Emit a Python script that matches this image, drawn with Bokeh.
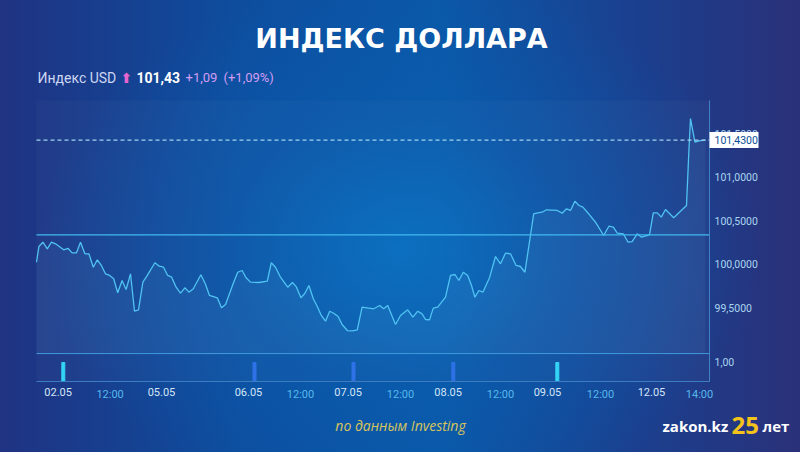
from bokeh.plotting import figure
from bokeh.models import (Range1d, LinearAxis, FixedTicker, CustomJSTickFormatter, Label,
                          BoxAnnotation)
from bokeh.embed import file_html
from bokeh.resources import INLINE

# ---- data ----
# time position (session index units) and price
t = [0, 0.6, 1.6, 2.7, 3.7, 4.75, 6.8, 7.9, 8.9, 10.0, 11.0, 12.1, 13.1, 14.2, 15.2, 16.2,
     17.25, 18.3, 19.3, 20.3, 21.4, 22.4, 23.5, 24.5, 25.5, 26.6, 27.7, 29.6, 30.7, 31.75,
     32.8, 33.8, 34.9, 36.0, 37.1, 38.1, 39.2, 41.1, 42.2, 43.25, 45.2, 46.25, 47.25, 49.3,
     50.3, 51.4, 52.4, 53.5, 55.6, 57.7, 58.7, 59.75, 61.0, 62.8, 64.0, 65.0, 66.1, 67.1,
     68.1, 69.2, 70.2, 71.2, 72.25, 73.3, 74.3, 75.4, 76.4, 77.7, 79.0, 80.2, 81.4, 84.3,
     85.8, 86.8, 87.8, 89.75, 91.0, 92.8, 94.1, 95.3, 96.4, 97.25, 98.25, 99.2, 100.3,
     102.25, 103.5, 104.6, 105.6, 106.7, 107.8, 108.75, 109.6, 110.6, 111.6, 113.3, 114.75,
     116.0, 117.25, 118.5, 119.9, 121.0, 122.1, 124.3, 125.3, 126.4, 127.5, 130.2, 131.4,
     132.5, 133.5, 134.6, 135.6, 136.6, 137.7, 139.75, 141.8, 143.1, 144.2, 145.2, 146.7,
     147.9, 148.9, 150.2, 151.25, 153.25, 154.2, 155.2, 156.2, 157.25, 159.3, 162.5, 163.1,
     163.5, 164.6, 166.0, 167.25]
price = [100.026, 100.207, 100.256, 100.180, 100.256, 100.238, 100.169, 100.184, 100.134,
         100.134, 100.256, 100.123, 100.123, 99.969, 100.054, 99.989, 99.893, 99.874, 99.836,
         99.675, 99.816, 99.713, 99.893, 99.463, 99.479, 99.797, 99.874, 100.020, 99.980,
         99.969, 99.874, 99.854, 99.739, 99.670, 99.732, 99.682, 99.721, 99.882, 99.778,
         99.644, 99.617, 99.502, 99.540, 99.797, 99.911, 99.931, 99.847, 99.797, 99.793,
         99.808, 100.020, 99.969, 99.854, 99.739, 99.793, 99.739, 99.617, 99.670, 99.759,
         99.606, 99.517, 99.414, 99.348, 99.463, 99.440, 99.402, 99.310, 99.241, 99.236,
         99.249, 99.509, 99.491, 99.529, 99.491, 99.529, 99.310, 99.414, 99.479, 99.394,
         99.463, 99.433, 99.368, 99.364, 99.498, 99.509, 99.624, 99.874, 99.885, 99.816,
         99.911, 99.874, 99.759, 99.624, 99.701, 99.682, 99.854, 100.092, 100.008, 100.130,
         100.123, 99.989, 99.977, 99.911, 100.583, 100.594, 100.601, 100.629, 100.621,
         100.590, 100.640, 100.621, 100.728, 100.678, 100.659, 100.601, 100.486, 100.333,
         100.440, 100.429, 100.360, 100.353, 100.256, 100.264, 100.353, 100.314, 100.341,
         100.594, 100.594, 100.544, 100.632, 100.537, 100.678, 101.310, 101.678, 101.406,
         101.425, 101.430]

last_price = 101.43
prev_close = 100.34

date_ticks = [5.4, 31.25, 53.0, 77.9, 102.9, 127.75, 153.75]
date_labels = ["02.05", "05.05", "06.05", "07.05", "08.05", "09.05", "12.05"]
hour_ticks = [18.4, 66.0, 91.0, 116.0, 141.0, 165.75]
hour_labels = ["12:00", "12:00", "12:00", "12:00", "12:00", "14:00"]
price_ticks = [99.5, 100.0, 100.5, 101.0, 101.5]

vol_t = [6.7, 54.5, 79.25, 104.2, 130.2]
vol_vals = [1.0, 1.0, 1.0, 1.0, 1.0]
vol_colors = ["#2fd3f5", "#2a6ee6", "#2a6ee6", "#2a6ee6", "#2fd3f5"]
vol_tick = 1.0

# ---- layout of the whole card (frame covers the full canvas) ----
W, H = 800, 452
XR = (-9.0, 191.0)              # full-canvas x range (session units)
YR = (97.839, 103.0345)         # full-canvas price range
VR = (-3.737, 20.053)           # full-canvas volume range
CX = (0.0, 168.25)              # chart area x extent
CY = (98.655, 101.885)          # chart area price extent
TAG_W, TAG_H = 12.25, 0.092     # price tag box size (x units, half-height in price units)

p = figure(width=W, height=H, output_backend="svg", toolbar_location=None,
           x_range=Range1d(*XR), y_range=Range1d(*YR),
           x_axis_location=None, y_axis_location=None, min_border=0)
p.extra_y_ranges = {"vol": Range1d(*VR)}
p.grid.visible = False
p.outline_line_color = None
p.border_fill_alpha = 0
p.background_fill_alpha = 0
p.styles = {"background": "radial-gradient(ellipse 45% 60% at 50% 55%, rgba(6,112,195,0.85) 0%, rgba(8,95,178,0.45) 50%, rgba(8,80,160,0) 100%), "
                          "linear-gradient(90deg, #1f3382 0%, #0e4d9e 30%, #0b58a8 55%, #1b3f8e 80%, #2a3179 100%)"}

# chart area panel
p.add_layout(BoxAnnotation(left=CX[0], right=CX[1], bottom=CY[0], top=CY[1],
                           fill_color="#ffffff", fill_alpha=0.025, line_color=None))

# separator between price area and volume strip (price units)
sep_price = YR[0] + (1.47 - VR[0]) / (VR[1] - VR[0]) * (YR[1] - YR[0])

p.varea(x=t, y1=sep_price, y2=price, fill_color="#7cc8f5", fill_alpha=0.07)
p.line(t, price, line_color="#4cc2f2", line_width=1.3)
p.vbar(x=vol_t, top=vol_vals, bottom=0, width=0.75, color=vol_colors, y_range_name="vol")

p.segment(x0=[CX[0]], x1=[CX[1]], y0=[prev_close], y1=[prev_close], line_color="#3db8f0", line_width=1.2)
p.segment(x0=[CX[0]], x1=[CX[1]], y0=[last_price], y1=[last_price], line_color="#9fd3f0",
          line_width=1.3, line_dash="4 3")
p.segment(x0=[CX[0]], x1=[CX[1]], y0=[sep_price], y1=[sep_price], line_color="#3b98dc", line_width=1)

# x axes (dates, hours) fixed at the bottom of the chart area
def style_x(ax, color):
    ax.major_label_text_color = color
    ax.major_label_text_font = "Roboto"
    ax.major_label_text_font_size = "11px"
    ax.major_label_standoff = 6
    ax.major_tick_out = 0
    ax.major_tick_in = 0
    ax.major_tick_line_color = None
    ax.minor_tick_line_color = None

xa = LinearAxis(ticker=FixedTicker(ticks=date_ticks), fixed_location=CY[0], bounds=CX)
xa.major_label_overrides = {k: v for k, v in zip(date_ticks, date_labels)}
style_x(xa, "#d3e6f8")
xa.axis_line_color = "#3a7cc2"
p.add_layout(xa, "below")

xb = LinearAxis(ticker=FixedTicker(ticks=hour_ticks), fixed_location=CY[0], bounds=CX)
xb.major_label_overrides = {k: v for k, v in zip(hour_ticks, hour_labels)}
style_x(xb, "#56b9ec")
xb.axis_line_color = None
p.add_layout(xb, "below")

# right axis fixed at the right edge of the chart area
vol_tick_price = YR[0] + (vol_tick - VR[0]) / (VR[1] - VR[0]) * (YR[1] - YR[0])
ya = LinearAxis(ticker=FixedTicker(ticks=[vol_tick_price] + price_ticks), fixed_location=CX[1],
                bounds=CY)
ya.formatter = CustomJSTickFormatter(code="return tick.toFixed(4).replace('.', ',');")
ya.major_label_overrides = {vol_tick_price: "1,00"}
ya.major_label_text_color = "#a9d5f0"
ya.major_label_text_font = "Roboto"
ya.major_label_text_font_size = "10.5px"
ya.major_label_standoff = 5
ya.major_tick_out = 0
ya.major_tick_in = 0
ya.axis_line_color = "#3d80c4"
ya.major_tick_line_color = None
ya.minor_tick_line_color = None
p.add_layout(ya, "right")

# price tag
p.add_layout(BoxAnnotation(left=CX[1], right=CX[1] + TAG_W, bottom=last_price - TAG_H,
                           top=last_price + TAG_H, fill_color="#ffffff", fill_alpha=1.0,
                           line_color=None))
p.add_layout(Label(x=CX[1], y=last_price, text="101,4300", text_align="left", text_baseline="middle",
                   text_color="#0c4e95", text_font="Roboto", text_font_size="10.5px", x_offset=5))

def lab(sx, sy, text, **kw):
    p.add_layout(Label(x=sx, y=sy, x_units="screen", y_units="screen", text=text, **kw))

lab(401, 414, "ИНДЕКС ДОЛЛАРА", text_align="center", text_baseline="middle", text_color="white",
    text_font="DejaVu Sans", text_font_style="bold", text_font_size="27px")
lab(37, 375, "Индекс USD", text_baseline="middle", text_color="#cdd6f2", text_font="Roboto", text_font_size="14px")
lab(120, 375, "⬆", text_baseline="middle", text_color="#e766cf", text_font="DejaVu Sans",
    text_font_style="bold", text_font_size="14px")
lab(136, 375, "101,43", text_baseline="middle", text_color="white", text_font="Roboto",
    text_font_style="bold", text_font_size="14px")
lab(185, 375, "+1,09", text_baseline="middle", text_color="#d49cf3", text_font="Roboto", text_font_size="13px")
lab(223, 375, "(+1,09%)", text_baseline="middle", text_color="#d49cf3", text_font="Roboto", text_font_size="13px")

lab(400, 27, "по данным Investing", text_align="center", text_baseline="middle", text_color="#d7c45c",
    text_font="Open Sans", text_font_style="italic", text_font_size="14px")
lab(662, 27, "zakon.kz", text_baseline="middle", text_color="white", text_font="Open Sans",
    text_font_style="bold", text_font_size="15px")
lab(731, 27, "25", text_baseline="middle", text_color="#f3c31c", text_font="Open Sans",
    text_font_style="bold", text_font_size="24px")
lab(762, 27, "лет", text_baseline="middle", text_color="white", text_font="Open Sans",
    text_font_style="bold", text_font_size="15px")

open("out.html", "w").write(file_html(p, INLINE))
